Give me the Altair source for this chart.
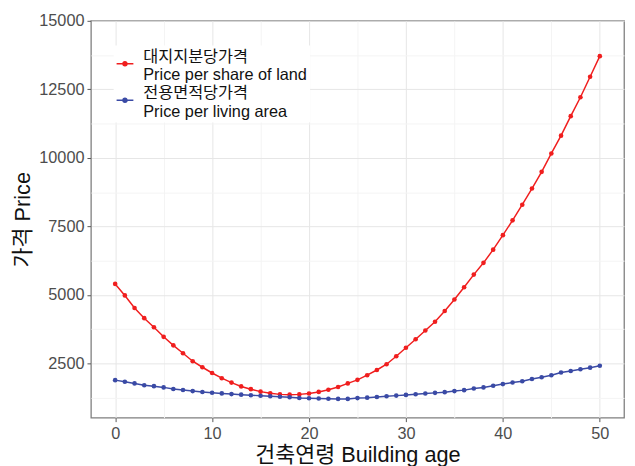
import altair as alt
import pandas as pd

age = list(range(51))
land = [5400, 4980, 4520, 4150, 3820, 3470, 3160, 2870, 2580, 2360,
        2150, 1960, 1800, 1660, 1560, 1470, 1410, 1370, 1360, 1370,
        1400, 1460, 1540, 1640, 1770, 1900, 2070, 2260, 2470, 2760,
        3070, 3380, 3700, 4020, 4410, 4830, 5280, 5740, 6170, 6650,
        7180, 7720, 8290, 8880, 9490, 10160, 10810, 11520, 12210, 12960,
        13710]
living = [1890, 1830, 1770, 1705, 1670, 1625, 1565, 1530, 1490, 1455,
          1430, 1405, 1380, 1360, 1340, 1320, 1300, 1285, 1265, 1240,
          1230, 1220, 1210, 1205, 1205, 1235, 1250, 1275, 1300, 1325,
          1350, 1375, 1400, 1425, 1450, 1490, 1525, 1585, 1625, 1685,
          1745, 1805, 1850, 1930, 1995, 2070, 2170, 2225, 2285, 2345,
          2415]
series = ["대지지분당가격|Price per share of land", "전용면적당가격|Price per living area"]
colors = ["#f01e1e", "#3a4aa5"]
x_major = [0, 10, 20, 30, 40, 50]
x_minor = [5, 15, 25, 35, 45]
y_major = [2500, 5000, 7500, 10000, 12500, 15000]
y_minor = [1250, 3750, 6250, 8750, 11250, 13750]

df = pd.DataFrame({
    "age": age + age,
    "price": land + living,
    "series": [series[0]] * len(land) + [series[1]] * len(living),
})

font = "Liberation Sans, Noto Sans CJK KR"
xscale = alt.Scale(domain=[-2.5, 52.5], nice=False, zero=False)
yscale = alt.Scale(domain=[520, 15000], nice=False, zero=False)

base = alt.Chart(df)

minor = base.mark_line(opacity=0).encode(
    x=alt.X("age:Q", scale=xscale,
            axis=alt.Axis(values=x_minor, grid=True, gridColor="#f4f4f4", gridWidth=1,
                          labels=False, ticks=False, domain=False, title=None, orient="top")),
    y=alt.Y("price:Q", scale=yscale,
            axis=alt.Axis(values=y_minor, grid=True, gridColor="#f4f4f4", gridWidth=1,
                          labels=False, ticks=False, domain=False, title=None, orient="right")),
    detail="series:N",
)

main = base.mark_line(
    strokeWidth=1.5,
    point=alt.OverlayMarkDef(size=22, filled=True),
).encode(
    x=alt.X("age:Q", scale=xscale,
            axis=alt.Axis(values=x_major, grid=True, gridColor="#e6e6e6", gridWidth=1,
                          title="건축연령 Building age", titleFontSize=22, titleFont=font,
                          titleFontWeight="normal", titleColor="#111111", titlePadding=3,
                          labelFontSize=16.5, labelFont=font, labelColor="#4d4d4d",
                          labelPadding=4, tickSize=4, tickColor="#555555", domain=False,
                          orient="bottom")),
    y=alt.Y("price:Q", scale=yscale,
            axis=alt.Axis(values=y_major, grid=True, gridColor="#e6e6e6", gridWidth=1,
                          format="d",
                          title="가격 Price", titleFontSize=22, titleFont=font,
                          titleFontWeight="normal", titleColor="#111111", titlePadding=4,
                          labelFontSize=16.5, labelFont=font, labelColor="#4d4d4d",
                          labelPadding=3, tickSize=4, tickColor="#555555", domain=False,
                          orient="left")),
    color=alt.Color("series:N", scale=alt.Scale(domain=series, range=colors),
                    legend=alt.Legend(
                        title=None, orient="none", legendX=23, legendY=25,
                        labelExpr="split(datum.label, '|')",
                        labelFont=font, labelFontSize=16.5, labelColor="#111111",
                        labelLimit=400, labelOffset=9,
                        symbolType="M-1,0.82H1M-0.235,0.82a0.235,0.235 0 1,0 0.47,0a0.235,0.235 0 1,0 -0.47,0",
                        symbolSize=289, symbolStrokeWidth=1.5,
                        fillColor="white", padding=2, rowPadding=0,
                    )),
)

chart = alt.layer(minor, main).resolve_axis(
    x="independent", y="independent"
).properties(
    width=540, height=402,
    autosize=alt.AutoSizeParams(type="none"),
    padding={"left": 84, "top": 10, "right": 3, "bottom": 48},
    background="white",
).configure_view(
    stroke="#7f7f7f", strokeWidth=1.3
)

chart.save("out.html", embed_options={"renderer": "svg", "actions": False})
